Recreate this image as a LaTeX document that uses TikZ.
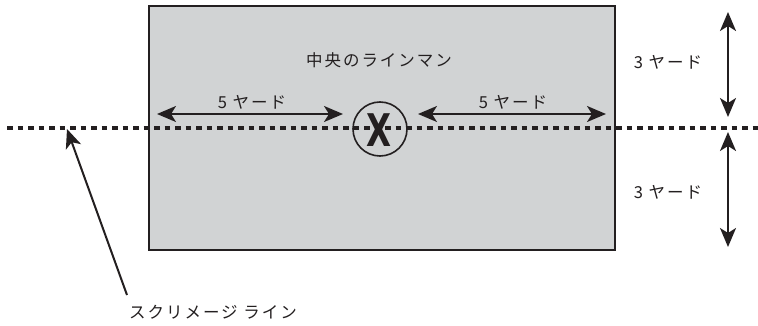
\documentclass[tikz,border=0pt]{standalone}
\usepackage{fontspec}
\newfontfamily\jp[LetterSpace=12]{Noto Sans CJK JP}
\newfontfamily\xf{DejaVu Sans}
\usetikzlibrary{arrows.meta}
\definecolor{fieldgray}{HTML}{D1D3D4}
\definecolor{ink}{HTML}{231F20}
\begin{document}
\begin{tikzpicture}[x=1pt,y=-1pt,
  lab/.style={font=\jp\fontsize{16.5}{16.5}\selectfont, text=ink, inner sep=0pt},
  tip/.tip={Stealth[length=19pt,width=16pt,inset=5pt]},
  dim/.style={draw=ink, line width=2pt, tip-tip},
  ptr/.style={draw=ink, line width=2pt, -tip},
  scrim/.style={draw=ink, line width=4.2pt, dash pattern=on 5.5pt off 5pt},
  fieldbox/.style={draw=ink, line width=2pt, fill=fieldgray, inner sep=0pt, anchor=north west},
  manmark/.style={circle, draw=ink, line width=1.6pt, minimum size=54pt, inner sep=0pt}
]
\useasboundingbox (0,0) rectangle (758,326);
% field
\node[fieldbox, minimum width=466pt, minimum height=244pt] (field) at (148,5) {};
% scrimmage line
\coordinate (s0) at (7,128);
\coordinate (s1) at (758,128);
\draw[scrim] (s0) -- (s1);
% center lineman
\node[manmark] (cx) at (380,129) {};
\node[inner sep=0pt, text=ink, font=\xf\bfseries\fontsize{45}{45}\selectfont] (xl) at (379,130) {\scalebox{0.72}[1]{X}};
% horizontal arrows
\coordinate (l1) at (157,114); \coordinate (l2) at (343,114);
\coordinate (r1) at (418,114); \coordinate (r2) at (606,114);
\draw[dim] (l1) -- (l2);
\draw[dim] (r1) -- (r2);
% vertical arrows
\coordinate (u1) at (728,12); \coordinate (u2) at (728,117);
\coordinate (d1) at (728,132); \coordinate (d2) at (728,247);
\draw[dim] (u1) -- (u2);
\draw[dim] (d1) -- (d2);
% pointer
\coordinate (p0) at (127,295); \coordinate (p1) at (67,129);
\draw[ptr] (p0) -- (p1);
% labels
\node[lab] (tc) at (379,60) {中央のラインマン};
\node[lab] (tl) at (252,102) {5 ヤード};
\node[lab] (tr) at (513,102) {5 ヤード};
\node[lab] (tu) at (668,62) {3 ヤード};
\node[lab] (td) at (668,192) {3 ヤード};
\node[lab] (ts) at (213,312) {スクリメージ ライン};
\end{tikzpicture}
\end{document}
